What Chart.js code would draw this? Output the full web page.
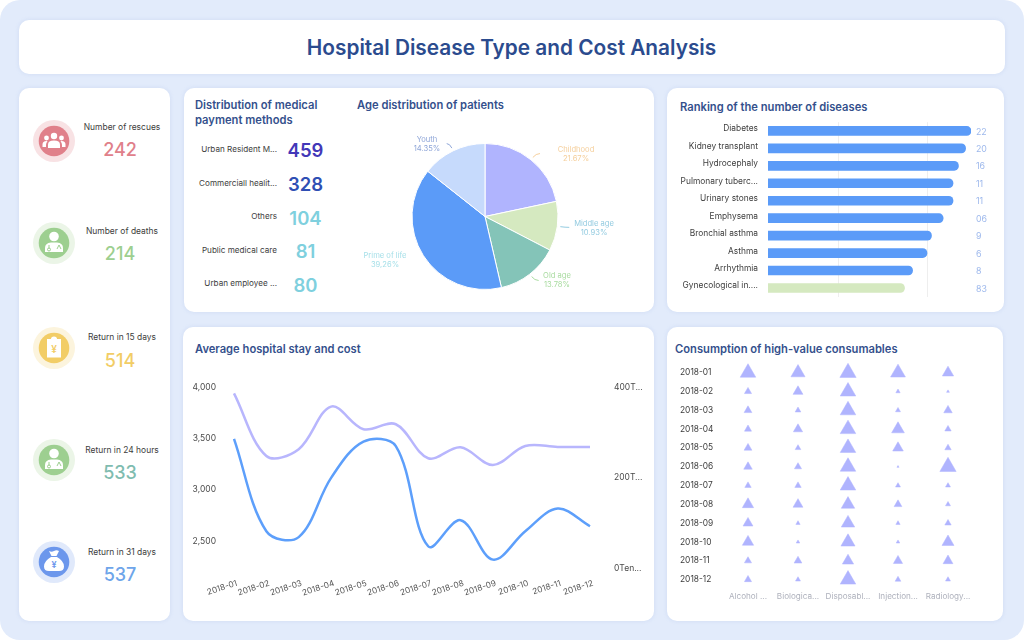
<!DOCTYPE html>
<html>
<head>
<meta charset="utf-8">
<title>Hospital Disease Type and Cost Analysis</title>
<script src="https://cdn.jsdelivr.net/npm/chart.js@4/dist/chart.umd.min.js"></script>
<style>
html, body { margin: 0; padding: 0; background: #fff; }
body { width: 1024px; height: 640px; overflow: hidden; position: relative; font-family: Inter, sans-serif; }
#page { position: absolute; left: 0; top: 0; width: 1024px; height: 640px; background: #e2ebfb; border-radius: 20px; }
.panel { position: absolute; background: #fff; border-radius: 10px; box-shadow: 0 0 4px rgba(120,150,210,.18); }
.t { position: absolute; font-weight: 600; font-size: 11.2px; line-height: 15px; color: #34508c; white-space: nowrap; }
canvas { position: absolute; }
.kpi-icon { position: absolute; left: 33px; width: 42px; height: 42px; }
.kpi-label { position: absolute; width: 100px; left: 72px; text-align: center; font-size: 8.45px; color: #3d3d3d; }
.kpi-num { position: absolute; width: 100px; left: 70px; text-align: center; font-size: 18px; font-weight: 500; }
.pay-label { position: absolute; width: 100px; left: 177px; text-align: right; font-size: 8.15px; color: #3d3d3d; white-space: nowrap; }
.pay-num { position: absolute; width: 60px; left: 275.500px; text-align: center; font-size: 18.5px; font-weight: 600; }
</style>
</head>
<body>
<div id="page">
  <div class="panel" style="left:19px;top:20px;width:986px;height:54px"></div>
  <div class="panel" style="left:19px;top:88px;width:151px;height:533px"></div>
  <div class="panel" style="left:184px;top:88px;width:470px;height:224px"></div>
  <div class="panel" style="left:667px;top:88px;width:337px;height:224px"></div>
  <div class="panel" style="left:183px;top:327px;width:471px;height:294px"></div>
  <div class="panel" style="left:667px;top:327px;width:336px;height:294px"></div>

  <div class="t" style="left:0;top:35px;width:1023px;text-align:center;font-size:20.8px;line-height:25px;color:#2b4b8e">Hospital Disease Type and Cost Analysis</div>
  <div class="t" style="left:195px;top:98px">Distribution of medical<br>payment methods</div>
  <div class="t" style="left:357px;top:98px">Age distribution of patients</div>
  <div class="t" style="left:680px;top:99.500px">Ranking of the number of diseases</div>
  <div class="t" style="left:195px;top:342px">Average hospital stay and cost</div>
  <div class="t" style="left:675px;top:342px">Consumption of high-value consumables</div>

  <canvas id="pie" style="left:340px;top:115px;width:300px;height:190px"></canvas>
  <canvas id="rank" style="left:670px;top:118px;width:330px;height:190px"></canvas>
  <canvas id="line" style="left:190px;top:358px;width:460px;height:242px"></canvas>
  <canvas id="tri" style="left:670px;top:360px;width:330px;height:255px"></canvas>
</div>

<script>
/* left column */
var kpiNames = ["Number of rescues", "Number of deaths", "Return in 15 days", "Return in 24 hours", "Return in 31 days"];
var kpiValues = [242, 214, 514, 533, 537];
var kpiColors = ["#e0808a", "#9dcf90", "#f2cd66", "#7fbcb0", "#6ea5ea"];

/* payment methods */
var payNames = ["Urban Resident M...", "Commerciall healit...", "Others", "Public medical care", "Urban employee ..."];
var payValues = [459, 328, 104, 81, 80];
var payColors = ["#4338b8", "#2f4fb4", "#7fd0de", "#7fd0de", "#7fd0de"];

/* age pie */
var ageNames = ["Childhood", "Middle age", "Old age", "Prime of life", "Youth"];
var ageValues = [21.67, 10.93, 13.78, 39.26, 14.35];
var ageText = ["21.67%", "10.93%", "13.78%", "39,26%", "14.35%"];
var ageColors = ["#b0b4fe", "#d5e9c0", "#84c4b8", "#5b9bf8", "#c6dafc"];
var ageLabelColors = ["#f5cf9c", "#93cbe0", "#a9dba0", "#a5dfe8", "#8fa6d8"];

var diseases = ["Diabetes", "Kidney transplant", "Hydrocephaly", "Pulmonary tuberc...", "Urinary stones", "Emphysema", "Bronchial asthma", "Asthma", "Arrhythmia", "Gynecological in...."];
var diseaseValues = [248, 242, 234, 228, 228, 217, 204, 199, 183, 174];
var diseaseText = ["22", "20", "16", "11", "11", "06", "9", "6", "8", "83"];

/* hospital stay and cost */
var months = ["2018-01", "2018-02", "2018-03", "2018-04", "2018-05", "2018-06", "2018-07", "2018-08", "2018-09", "2018-10", "2018-11", "2018-12"];
var stayCost = [3497, 2597, 2540, 3117, 3470, 3426, 2451, 2705, 2321, 2597, 2818, 2646];
var stayDays = [386, 248, 263, 357, 307, 318, 243, 267, 228, 270, 268, 268];
var rightTicks = {0: "0Ten...", 200: "200T...", 400: "400T..."};

/* consumables */
var goods = ["Alcohol ...", "Biologica...", "Disposabl...", "Injection...", "Radiology..."];
var alcohol = [44, 20, 22, 20, 22, 24, 18, 32, 28, 32, 20, 20];
var biological = [40, 28, 16, 26, 16, 20, 18, 28, 12, 10, 22, 14];
var disposable = [46, 44, 44, 44, 44, 44, 44, 38, 38, 40, 32, 44];
var injection = [42, 12, 14, 36, 30, 6, 14, 22, 12, 10, 26, 16];
var radiology = [32, 8, 24, 18, 18, 46, 14, 14, 18, 34, 28, 14];

var page = document.getElementById("page");
var kpiTops = [120, 222, 327, 439, 541];

function addDiv(cls, text, left, top, color) {
    var d = document.createElement("div");
    d.className = cls;
    d.textContent = text;
    if (left !== null) d.style.left = left + "px";
    d.style.top = top + "px";
    if (color) d.style.color = color;
    page.appendChild(d);
}

/* small white glyphs for the round icons */
var glyphs = [
    '<circle cx="21" cy="16" r="3.2"/><circle cx="13.5" cy="18" r="2.4"/><circle cx="28.5" cy="18" r="2.4"/><path d="M15 28v-3.500q0-4 6-4t6 4v3.500z"/><path d="M9.500 27v-2.500q0-3.500 4-3.500l1 .3q-1.500 1.500-1.500 3.700v2zM32.500 27v-2.500q0-3.500-4-3.500l-1 .3q1.500 1.500 1.500 3.700v2z"/>',
    '<circle cx="21" cy="14.500" r="4.800"/><path d="M12 30v-4q0-5 6-5.500h6q6 .5 6 5.500v4z"/><path d="M16 23v3.500M26 23l-2 4M26 23l2 4" stroke="#9dcf90" stroke-width="1" fill="none"/><circle cx="16" cy="27.500" r="1.500" fill="none" stroke="#9dcf90"/>',
    '<path d="M14 12h4q0-2.500 3-2.500t3 2.500h4v18.500h-14z"/><text x="21" y="26" font-size="10" font-weight="600" text-anchor="middle" fill="#f2cd66">¥</text>',
    '<circle cx="21" cy="14.500" r="4.800"/><path d="M12 30v-4q0-5 6-5.500h6q6 .5 6 5.500v4z"/><path d="M16 23v3.500M26 23l-2 4M26 23l2 4" stroke="#9dcf90" stroke-width="1" fill="none"/><circle cx="16" cy="27.500" r="1.500" fill="none" stroke="#9dcf90"/>',
    '<path d="M16 10q2.500 1.500 5 0t5 0l-2.500 5h-5zM18 16h6q7 4 7 9.500 0 4.500-5 4.500h-10q-5 0-5-4.500 0-5.500 7-9.500z"/><text x="21" y="27" font-size="9" font-weight="600" text-anchor="middle" fill="#6c97ec">¥</text>'
];
var iconDark = ["#e0808a", "#9dcf90", "#f2cd66", "#9dcf90", "#6c97ec"];
var iconLight = ["#f8e2e4", "#ebf5e7", "#fcf4dd", "#ebf5e7", "#e0e9fb"];

kpiNames.forEach(function (name, i) {
    var svg = '<svg class="kpi-icon" style="top:' + kpiTops[i] + 'px" viewBox="0 0 42 42" fill="#fff">' +
        '<circle cx="21" cy="21" r="21" fill="' + iconLight[i] + '"/>' +
        '<circle cx="21" cy="21" r="15.300" fill="' + iconDark[i] + '"/>' + glyphs[i] + '</svg>';
    page.insertAdjacentHTML("beforeend", svg);
    addDiv("kpi-label", name, null, [122, 226, 332, 445, 547][i]);
    addDiv("kpi-num", kpiValues[i], null, [139, 243, 350, 462, 564][i], kpiColors[i]);
});

payNames.forEach(function (name, i) {
    addDiv("pay-label", name, null, 144 + i * 33.600);
    addDiv("pay-num", payValues[i], null, 139 + i * 33.800, payColors[i]);
});

/* pie labels with their little leader lines, offsets are from the pie centre */
var pieLabelAt = [[91, -62], [109, 12], [72, 64], [-100, 44], [-58, -72]];
var pieLabels = {
    id: "pieLabels",
    afterDatasetsDraw: function (chart) {
        var ctx = chart.ctx;
        var arcs = chart.getDatasetMeta(0).data;
        arcs.forEach(function (arc, i) {
            var mid = (arc.startAngle + arc.endAngle) / 2;
            var r = arc.outerRadius;
            var cos = Math.cos(mid), sin = Math.sin(mid);
            var right = cos >= 0;
            var x0 = arc.x + cos * (r + 3), y0 = arc.y + sin * (r + 3);
            var x1 = arc.x + cos * (r + 8), y1 = arc.y + sin * (r + 8);
            var x2 = x1 + (right ? 4 : -3);
            ctx.save();
            ctx.strokeStyle = ageLabelColors[i];
            ctx.lineWidth = 1;
            if (i !== 3) {
                ctx.beginPath();
                ctx.moveTo(x0, y0);
                ctx.quadraticCurveTo(x1, y1, x2, y1);
                ctx.stroke();
            }
            ctx.fillStyle = ageLabelColors[i];
            ctx.font = "7.6px Inter";
            ctx.textAlign = "center";
            ctx.textBaseline = "middle";
            var tx = arc.x + pieLabelAt[i][0], ty = arc.y + pieLabelAt[i][1];
            ctx.fillText(ageNames[i], tx, ty - 4.5);
            ctx.fillText(ageText[i], tx, ty + 4.5);
            ctx.restore();
        });
    }
};

new Chart(document.getElementById("pie"), {
    type: "pie",
    data: {
        labels: ageNames,
        datasets: [{ data: ageValues, backgroundColor: ageColors, borderColor: "#fff", borderWidth: 1 }]
    },
    options: {
        responsive: false,
        animation: false,
        layout: { padding: { left: 71.500, right: 81.500, top: 28, bottom: 15 } },
        plugins: { legend: { display: false }, tooltip: { enabled: false } }
    },
    plugins: [pieLabels]
});

/* tick padding would otherwise push the plot area in from top and bottom */
function noEndPadding(axis) {
    axis.paddingTop = 0;
    axis.paddingBottom = 0;
}

new Chart(document.getElementById("rank"), {
    type: "bar",
    data: {
        labels: diseases,
        datasets: [{
            data: diseaseValues,
            backgroundColor: diseaseValues.map(function (v, i) { return i === 9 ? "#d5e9c0" : "#5b9bf8"; }),
            borderRadius: 5,
            borderSkipped: false,
            barThickness: 9
        }]
    },
    options: {
        indexAxis: "y",
        responsive: false,
        animation: false,
        layout: { padding: { top: 4.200, bottom: 11.300, left: 0, right: 0 } },
        plugins: { legend: { display: false }, tooltip: { enabled: false } },
        scales: {
            x: {
                min: 22, max: 248, display: true,
                ticks: { display: false, stepSize: 100 },
                afterBuildTicks: function (axis) { axis.ticks = [{ value: 100 }, { value: 200 }]; },
                afterFit: function (axis) { axis.height = 0; },
                grid: { color: "#eeeeee", drawTicks: false },
                border: { display: false }
            },
            y: {
                grid: { display: false, drawTicks: false },
                border: { display: false },
                afterFit: function (axis) { axis.width = 98; noEndPadding(axis); },
                ticks: { color: "#3d3d3d", font: { family: "Inter", size: 8.4 }, padding: 10, labelOffset: -2 }
            },
            y2: {
                type: "category",
                labels: diseaseText,
                position: "right",
                offset: true,
                grid: { display: false, drawTicks: false },
                border: { display: false },
                afterFit: function (axis) { axis.width = 29; noEndPadding(axis); },
                ticks: { color: "#9db8ec", font: { family: "Inter", size: 8.8 }, padding: 5, labelOffset: 1 }
            }
        }
    }
});

new Chart(document.getElementById("line"), {
    type: "line",
    data: {
        labels: months,
        datasets: [
            { data: stayDays, yAxisID: "y2", borderColor: "#b8b6fd", borderWidth: 2.500, pointRadius: 0, tension: 0.35, fill: false },
            { data: stayCost, yAxisID: "y", borderColor: "#5d9ffb", borderWidth: 2.500, pointRadius: 0, tension: 0.35, fill: false }
        ]
    },
    options: {
        responsive: false,
        animation: false,
        layout: { padding: { left: 0, right: 0, top: 10, bottom: 0 } },
        plugins: { legend: { display: false }, tooltip: { enabled: false } },
        scales: {
            x: {
                grid: { display: false },
                border: { display: false },
                ticks: { color: "#555", font: { family: "Inter", size: 8.3 }, maxRotation: 18, minRotation: 18, padding: 2, autoSkip: false, labelOffset: 3 }
            },
            y: {
                min: 2237, max: 4000,
                afterBuildTicks: function (axis) { axis.ticks = [2500, 3000, 3500, 4000].map(function (v) { return { value: v }; }); },
                afterFit: function (axis) { axis.width = 44; },
                grid: { display: false, drawTicks: false },
                border: { display: false },
                ticks: { color: "#4a4a4a", font: { family: "Inter", size: 8.5 }, padding: 18 }
            },
            y2: {
                position: "right",
                min: 0, max: 400,
                afterFit: function (axis) { axis.width = 60; },
                grid: { display: false, drawTicks: false },
                border: { display: false },
                ticks: {
                    stepSize: 200,
                    color: "#4a4a4a",
                    font: { family: "Inter", size: 8.5 },
                    padding: 24,
                    callback: function (v) { return rightTicks[v]; }
                }
            }
        }
    }
});

/* triangles: each value sets the base width of the mark */
var triData = [];
[alcohol, biological, disposable, injection, radiology].forEach(function (vals, c) {
    vals.forEach(function (v, m) {
        triData.push({ x: goods[c], y: months[m], r: v / 4.900 });
    });
});

new Chart(document.getElementById("tri"), {
    type: "bubble",
    data: {
        datasets: [{ data: triData, backgroundColor: "#b0b4fe", borderColor: "#b0b4fe", borderWidth: 0.5, pointStyle: "triangle" }]
    },
    options: {
        responsive: false,
        animation: false,
        clip: false,
        layout: { autoPadding: false, padding: { left: 10, right: 27, top: 3.300, bottom: 0 } },
        plugins: { legend: { display: false }, tooltip: { enabled: false } },
        scales: {
            x: {
                type: "category",
                labels: goods,
                offset: true,
                grid: { display: false, drawTicks: false },
                border: { display: false },
                afterFit: function (axis) { axis.height = 26; axis.paddingLeft = 0; axis.paddingRight = 0; },
                ticks: { color: "#aeb1bc", font: { family: "Inter", size: 8.15 }, autoSkip: false, maxRotation: 0, padding: 3 }
            },
            y: {
                type: "category",
                labels: months,
                offset: true,
                grid: { display: false, drawTicks: false },
                border: { display: false },
                afterFit: function (axis) { axis.width = 43; noEndPadding(axis); },
                ticks: { color: "#3d3d3d", font: { family: "Inter", size: 8.4 }, autoSkip: false, crossAlign: "far" }
            }
        }
    }
});
</script>
</body>
</html>
